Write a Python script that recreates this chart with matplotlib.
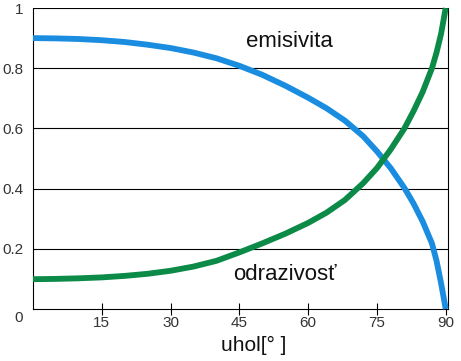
import matplotlib
matplotlib.use("Agg")
import matplotlib.pyplot as plt
import matplotlib.transforms as mtransforms

plt.rcParams['font.family'] = ['Liberation Sans', 'DejaVu Sans']

angles = [0, 5, 10, 15, 20, 25, 30, 35, 40, 45, 50, 55, 60, 64, 68, 72, 75, 78, 81, 83, 85, 87, 88, 89, 90]
emisivita = [0.900, 0.899, 0.897, 0.893, 0.887, 0.878, 0.867, 0.852, 0.833, 0.808, 0.778, 0.742, 0.702,
             0.667, 0.626, 0.574, 0.524, 0.468, 0.402, 0.350, 0.290, 0.218, 0.160, 0.085, 0.0]
odrazivost = [0.099, 0.100, 0.102, 0.105, 0.110, 0.117, 0.127, 0.141, 0.160, 0.188, 0.218, 0.250, 0.286,
              0.320, 0.362, 0.418, 0.468, 0.530, 0.600, 0.658, 0.722, 0.800, 0.852, 0.915, 1.0]

xticks = [15, 30, 45, 60, 75, 90]
yticks = [0, 0.2, 0.4, 0.6, 0.8, 1]
ytick_labels = ['0', '0.2', '0.4', '0.6', '0.8', '1']

fig = plt.figure(figsize=(4.61, 3.61), dpi=100)
ax = fig.add_axes([33/461, 1 - 309/361, (448-33)/461, (309-8)/361])

ax.set_xlim(0, 90.5)
ax.set_ylim(0, 1)

for y in yticks[1:]:
    ax.axhline(y, color='black', lw=0.8, zorder=1)

ax.plot(angles, emisivita, color='#1a8de0', lw=4.2, solid_capstyle='butt',
        solid_joinstyle='round', zorder=3, clip_on=False)
ax.plot(angles, odrazivost, color='#0b8a48', lw=4.2, solid_capstyle='butt',
        solid_joinstyle='round', zorder=3, clip_on=False)

ax.text(46.4, 0.869, 'emisivita', fontsize=16, color='#111111', ha='left', va='baseline')
ax.text(43.6, 0.096, 'odrazivosť', fontsize=16, color='#111111', ha='left', va='baseline')

ax.spines['top'].set_visible(False)
for s in ['left', 'bottom', 'right']:
    ax.spines[s].set_color('black')
    ax.spines[s].set_linewidth(0.8)

ax.set_xticks(xticks)
ax.set_xticklabels([str(t) for t in xticks])
ax.tick_params(axis='x', direction='inout', length=8, width=0.8, color='black',
               labelsize=11, labelcolor='#333333', pad=1)
ax.set_yticks(yticks)
ax.set_yticklabels(ytick_labels)
ax.tick_params(axis='y', length=0, labelsize=11, labelcolor='#333333', pad=7)

lbl0 = ax.get_yticklabels()[0]
lbl0.set_transform(lbl0.get_transform() + mtransforms.ScaledTranslation(0, -8/100, fig.dpi_scale_trans))

fig.text(254/461, 1 - 345/361, 'uhol[° ]', fontsize=15, color='#111111', ha='center', va='center')

fig.savefig('out.png', dpi=100)
